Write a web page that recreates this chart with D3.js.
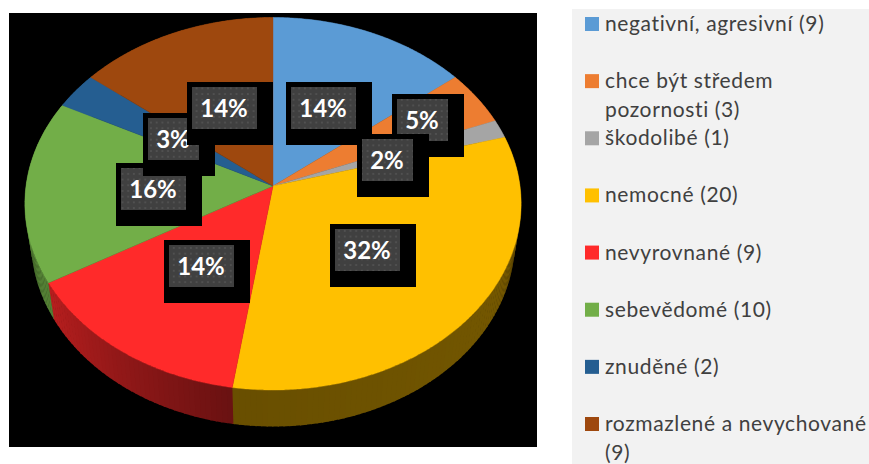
<!DOCTYPE html>
<html><head><meta charset="utf-8">
<script src="https://cdn.jsdelivr.net/npm/d3@7"></script>
<style>html,body{margin:0;padding:0;background:#fff;overflow:hidden}svg{display:block}</style>
</head><body><svg id="c" width="869" height="464"></svg>
<script>
// data
const categories = ["negativní, agresivní (9)","chce být středem pozornosti (3)","škodolibé (1)","nemocné (20)","nevyrovnané (9)","sebevědomé (10)","znuděné (2)","rozmazlené a nevychované (9)"];
const legendLines = [["negativní, agresivní (9)"],["chce být středem","pozornosti (3)"],["škodolibé (1)"],["nemocné (20)"],["nevyrovnané (9)"],["sebevědomé (10)"],["znuděné (2)"],["rozmazlené a nevychované","(9)"]];
const values = [9,3,1,20,9,10,2,9];
const percentLabels = ["14%","5%","2%","32%","14%","16%","3%","14%"];
const colors = ["#5B9BD5","#ED7D31","#A5A5A5","#FFC000","#FF2A2A","#72AE48","#255E91","#9E480E"];
// hand-placed label centres (layout, not data)
const labelCentersX = [323,422,387,367,201,153,173,224];
const labelCentersY = [108,120,160,250,266,189,139,108];

const svg = d3.select("#c");
svg.append("rect").attr("x",9).attr("y",13).attr("width",528).attr("height",434).attr("fill","#000");
const defs = svg.append("defs");
const pat = defs.append("pattern").attr("id","dots").attr("patternUnits","userSpaceOnUse").attr("width",11.4).attr("height",11.4);
pat.append("rect").attr("width",11.4).attr("height",11.4).attr("fill","#404040");
[[2.8,2.8],[8.5,2.8],[2.8,8.5],[8.5,8.5]].forEach(p=>pat.append("circle").attr("cx",p[0]).attr("cy",p[1]).attr("r",1).attr("fill","#545454"));

// perspective projection of the unit disc
const cx=273, cy=186, persp=-0.0953, ay=184.6, dx=247, depth=36.5, bottomScale=0.975;
function project(theta, bottom){
  const x=Math.sin(theta), y=-Math.cos(theta), w=1+persp*y;
  const X=dx*x/w, Y=ay*y/w;
  return bottom ? [cx+X*bottomScale, cy+Y+depth] : [cx+X, cy+Y];
}
const pie = d3.pie().sort(null).value(d=>d);
const arcs = pie(values);
const color = d3.scaleOrdinal().domain(d3.range(values.length)).range(colors);
const rad = Math.PI/180;
const shade = d3.scaleLinear().domain([90*rad,188*rad,240*rad,285*rad]).range([0.47,0.41,0.72,0.85]).clamp(true);
const step = rad*1.2;
const line = d3.line();

// side wall
const wall = svg.append("g");
arcs.forEach((a,i)=>{
  const ts = d3.range(a.startAngle,a.endAngle,step).concat([a.endAngle]);
  d3.pairs(ts).forEach(([t0,t1])=>{
    const c = d3.rgb(color(i));
    const k = shade((t0+t1)/2);
    const f = d3.rgb(c.r*k,c.g*k,c.b*k).formatHex();
    wall.append("path").attr("d",line([project(t0),project(t1+rad*.3),project(t1+rad*.3,true),project(t0,true)])+"Z").attr("fill",f);
  });
});
// top face
const topFace = svg.append("g");
arcs.forEach((a,i)=>{
  const ts = d3.range(a.startAngle,a.endAngle,rad*0.5).concat([a.endAngle]);
  topFace.append("path").attr("d",line([[cx,cy]].concat(ts.map(t=>project(t))))+"Z").attr("fill",color(i)).attr("stroke",color(i)).attr("stroke-width",0.4);
});
// data labels
const labels = svg.append("g");
percentLabels.forEach((t,i)=>{
  const g = labels.append("g");
  const tx = g.append("text").attr("x",labelCentersX[i]).attr("y",labelCentersY[i]).attr("dy",8.5)
    .attr("text-anchor","middle").attr("font-family","Lato").attr("font-weight",700).attr("font-size",24).attr("fill","#fff").text(t);
  const w = Math.round(tx.node().getComputedTextLength())+17;
  const gx = Math.round(labelCentersX[i]-w/2), gy = labelCentersY[i]-21;
  g.insert("rect","text").attr("x",gx-5).attr("y",gy-5).attr("width",w+21).attr("height",63).attr("fill","#000");
  g.insert("rect","text").attr("x",gx).attr("y",gy).attr("width",w).attr("height",42).attr("fill","url(#dots)");
});
// legend
svg.append("rect").attr("x",572).attr("y",9).attr("width",297).attr("height",455).attr("fill","#F2F2F2");
const legendY = d3.scaleLinear().domain([0,7]).range([17,417]);
const leg = svg.append("g");
categories.forEach((c,i)=>{
  leg.append("rect").attr("x",585).attr("y",legendY(i)).attr("width",14).attr("height",14).attr("fill",color(i));
  const t = leg.append("text").attr("font-family","Lato").attr("font-size",21).attr("fill","#404040").attr("letter-spacing",0.62);
  legendLines[i].forEach((l,j)=>t.append("tspan").attr("x",605).attr("y",legendY(i)+14+j*29).text(l));
});
</script></body></html>
